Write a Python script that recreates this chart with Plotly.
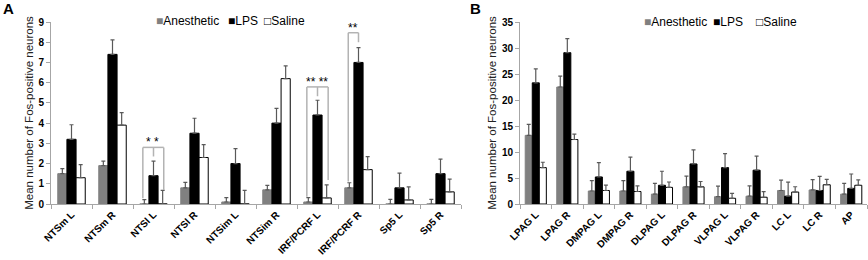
import plotly.graph_objects as go

# ---------------- data ----------------
cats_A = ["NTSm L", "NTSm R", "NTSl L", "NTSl R", "NTSim L", "NTSim R",
          "IRF/PCRF L", "IRF/PCRF R", "Sp5 L", "Sp5 R"]
anes_A = [1.5, 1.9, 0.0, 0.8, 0.1, 0.7, 0.1, 0.8, 0.0, 0.0]
anes_A_err = [0.25, 0.22, 0.22, 0.27, 0.22, 0.22, 0.22, 0.25, 0.23, 0.23]
lps_A = [3.2, 7.4, 1.4, 3.5, 2.0, 4.0, 4.4, 7.0, 0.8, 1.5]
lps_A_err = [0.72, 0.72, 0.72, 0.74, 0.74, 0.73, 0.73, 0.73, 0.73, 0.72]
sal_A = [1.3, 3.9, 0.0, 2.3, 0.0, 6.2, 0.3, 1.7, 0.2, 0.6]
sal_A_err = [0.65, 0.62, 0.67, 0.64, 0.67, 0.63, 0.65, 0.64, 0.65, 0.63]

cats_B = ["LPAG L", "LPAG R", "DMPAG L", "DMPAG R", "DLPAG L", "DLPAG R",
          "VLPAG L", "VLPAG R", "LC L", "LC R", "AP"]
anes_B = [13.2, 22.5, 2.5, 2.5, 1.9, 3.3, 1.4, 1.5, 2.6, 2.7, 1.9]
anes_B_err = [2.1, 2.1, 2.0, 2.0, 2.05, 2.05, 2.05, 2.0, 2.0, 2.0, 2.05]
lps_B = [23.3, 29.1, 5.2, 6.3, 3.6, 7.7, 7.0, 6.5, 1.5, 2.6, 3.0]
lps_B_err = [2.7, 2.7, 2.75, 2.7, 2.7, 2.7, 2.7, 2.7, 2.7, 2.7, 2.77]
sal_B = [7.0, 12.4, 2.6, 2.4, 3.2, 3.3, 1.1, 1.3, 2.3, 3.7, 3.6]
sal_B_err = [1.03, 1.03, 1.02, 1.09, 1.03, 1.03, 0.96, 1.09, 1.02, 1.02, 1.03]

series_names = ["Anesthetic", "LPS", "Saline"]

# significance brackets for panel A: (category, leg offsets, leg bottoms, top, label, label offset, label y)
brackets_A = [
    ("NTSl L", [-0.26, 0.0, 0.25], [0.28, 2.35, 0.69], 2.8, "* *", -0.02, 3.05),
    ("IRF/PCRF L", [-0.26, 0.0, 0.26], [0.36, 5.33, 1.19], 5.79, "** **", -0.02, 6.02),
    ("IRF/PCRF R", [-0.25, 0.0], [1.11, 8.0], 8.47, "**", -0.13, 8.72),
]

# ---------------- style ----------------
W, H = 868, 260
GRAY = "#808080"
AXC = "#a6a6a6"
ERRC = "#595959"
FONT = "Liberation Sans, Arial, sans-serif"

def px(x):
    return x / W

def py(y):
    return (H - y) / H

fig = go.Figure()

def add_group(cats, vals, errs, xa, ya):
    fills = [GRAY, "#000000", "#ffffff"]
    lines = [GRAY, "#000000", "#000000"]
    for name, v, e, fc, lc in zip(series_names, vals, errs, fills, lines):
        fig.add_trace(go.Bar(
            x=cats, y=v, name=name, xaxis=xa, yaxis=ya, showlegend=False,
            marker=dict(color=fc, line=dict(color=lc, width=1)),
            error_y=dict(type="data", symmetric=False, array=e,
                         arrayminus=[0] * len(e), color=ERRC,
                         thickness=1.2, width=2),
        ))

add_group(cats_A, [anes_A, lps_A, sal_A], [anes_A_err, lps_A_err, sal_A_err], "x", "y")
add_group(cats_B, [anes_B, lps_B, sal_B], [anes_B_err, lps_B_err, sal_B_err], "x2", "y2")

tickfont = dict(family=FONT, size=10, color="#000000", weight="bold")
titlefont = dict(family=FONT, size=11.5, color="#222222")

xcommon = dict(type="category", tickangle=-45, tickson="boundaries",
               ticks="outside", ticklen=4, tickcolor=AXC, showline=True,
               linecolor=AXC, linewidth=1, showgrid=False, tickfont=tickfont,
               automargin=False)
ycommon = dict(ticks="outside", ticklen=4, tickcolor=AXC, showline=True,
               linecolor=AXC, linewidth=1, showgrid=False, zeroline=False,
               tickfont=tickfont, automargin=False)

ydom = [py(204), py(22)]
fig.update_layout(
    template="none",
    width=W, height=H,
    margin=dict(l=0, r=0, t=0, b=0, autoexpand=False),
    paper_bgcolor="white", plot_bgcolor="white",
    barmode="group", bargap=0.33, bargroupgap=0,
    xaxis=dict(domain=[px(51), px(461)], anchor="y", **xcommon),
    yaxis=dict(domain=ydom, anchor="x", range=[0, 9], dtick=1,
               title=dict(text="Mean number of Fos-positive neurons",
                          font=titlefont, standoff=2), **ycommon),
    xaxis2=dict(domain=[px(520), px(867)], anchor="y2", **xcommon),
    yaxis2=dict(domain=ydom, anchor="x2", range=[0, 35], dtick=5,
                title=dict(text="Mean number of Fos-positive neurons",
                           font=titlefont, standoff=2), **ycommon),
    font=dict(family=FONT),
)

# brackets and stars
shapes = []
annots = []
for cat, offs, bottoms, top, label, loff, ly in brackets_A:
    i = cats_A.index(cat)
    for o, b in zip(offs, bottoms):
        shapes.append(dict(type="line", xref="x", yref="y", x0=i + o, x1=i + o,
                           y0=b, y1=top, line=dict(color="#b3b3b3", width=1.5)))
    shapes.append(dict(type="line", xref="x", yref="y", x0=i + offs[0], x1=i + offs[-1],
                       y0=top, y1=top, line=dict(color="#b3b3b3", width=1.5)))
    annots.append(dict(xref="x", yref="y", x=i + loff, y=ly, text=label,
                       showarrow=False, yanchor="middle",
                       font=dict(family=FONT, size=12, color="#000000")))

# legend rows (manual)
def legend_row(xs, ycen):
    syms = ["<span style='color:%s'>■</span>" % GRAY,
            "<span style='color:#000000'>■</span>",
            "<span style='color:#000000'>□</span>"]
    for x, s, n in zip(xs, syms, series_names):
        annots.append(dict(xref="paper", yref="paper", x=px(x), y=py(ycen),
                           xanchor="left", yanchor="middle", showarrow=False,
                           text=s + n,
                           font=dict(family=FONT, size=12, color="#000000")))

legend_row([154, 226, 262], 21)
legend_row([642, 711, 754], 22)

# panel letters
annots.append(dict(xref="paper", yref="paper", x=px(1), y=py(9), xanchor="left",
                   yanchor="middle", showarrow=False, text="<b>A</b>",
                   font=dict(family=FONT, size=15, color="#000000")))
annots.append(dict(xref="paper", yref="paper", x=px(468), y=py(8), xanchor="left",
                   yanchor="middle", showarrow=False, text="<b>B</b>",
                   font=dict(family=FONT, size=15, color="#000000")))

fig.update_layout(shapes=shapes, annotations=annots)
fig.write_html("out.html",
               config={"displayModeBar": False},
               post_script="document.body.style.margin='0';"
                           "document.body.style.overflow='hidden';")
